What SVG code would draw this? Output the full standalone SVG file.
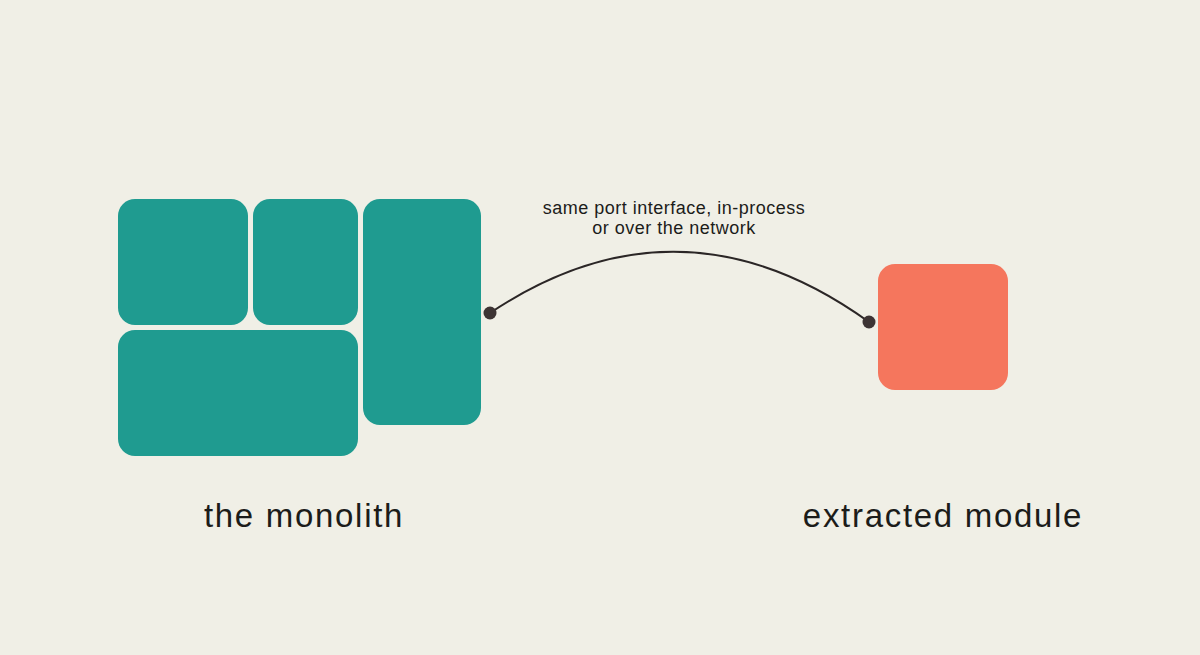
<svg xmlns="http://www.w3.org/2000/svg" width="1200" height="655" viewBox="0 0 1200 655">
<style>
.mono{fill:#1f9b90}
.ext{fill:#f5765d}
.lbl{font-family:"Liberation Sans",Arial,sans-serif;fill:#1c1c1a;text-anchor:middle}
.big{font-size:33px;letter-spacing:1.7px}
.small{font-size:18px;letter-spacing:0.5px}
.dot{fill:#3d3434}
</style>
<rect width="1200" height="655" fill="#f0efe6"/>
<g id="monolith">
<rect class="mono" x="118" y="199" width="130" height="126" rx="17"/>
<rect class="mono" x="253" y="199" width="105" height="126" rx="17"/>
<rect class="mono" x="363" y="199" width="118" height="226" rx="17"/>
<rect class="mono" x="118" y="330" width="240" height="126" rx="17"/>
<text class="lbl big" x="304" y="527">the monolith</text>
</g>
<g id="extracted">
<rect class="ext" x="878" y="264" width="130" height="126" rx="17"/>
<text class="lbl big" x="943" y="527">extracted module</text>
</g>
<g id="connectors">
<path d="M490 313 Q680 186 869 322" fill="none" stroke="#2b2626" stroke-width="2"/>
<circle class="dot" cx="490" cy="313" r="6.5"/>
<circle class="dot" cx="869" cy="322" r="6.5"/>
<text class="lbl small" x="674" y="214">same port interface, in-process</text>
<text class="lbl small" x="674" y="234">or over the network</text>
</g>
</svg>
